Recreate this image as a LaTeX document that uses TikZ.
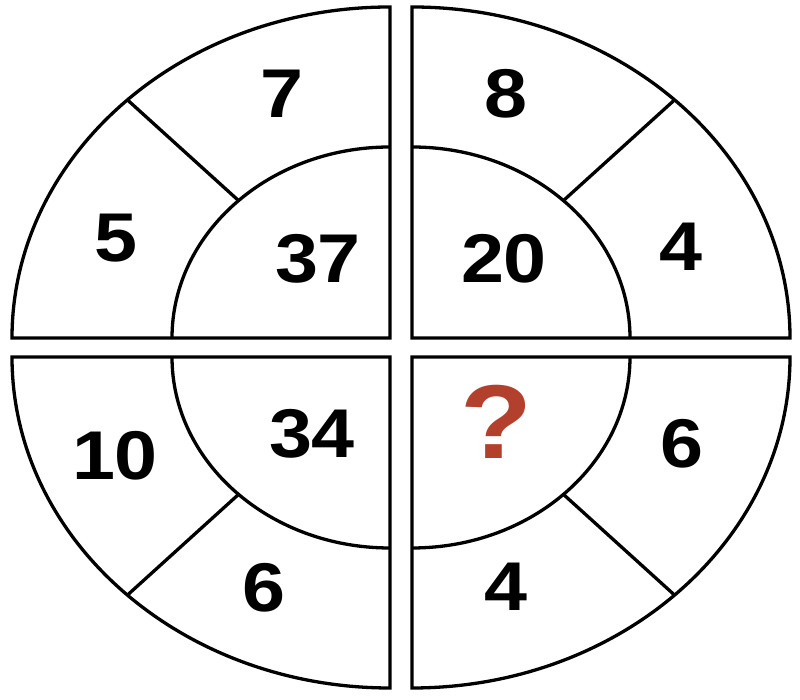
\documentclass[tikz,border=0pt]{standalone}
\usepackage{fontspec}
\setmainfont{Liberation Sans}
\newfontfamily\numfont[FakeStretch=1.12]{Liberation Sans Bold}
\usetikzlibrary{calc}
\definecolor{qcol}{RGB}{178,64,44}
\begin{document}
\begin{tikzpicture}[x=1pt,y=1pt,line width=3.3pt,
  quad/.style={draw=black,line join=miter},
  num/.style={inner sep=0pt,font=\numfont\fontsize{69}{80}\selectfont},
  qmark/.style={inner sep=0pt,text=qcol,font=\numfont\fontsize{105}{110}\selectfont}]
\fill[white] (0,0) rectangle (800,700);
\useasboundingbox (0,0) rectangle (800,700);
% quadrant corners
\coordinate (C1) at (390,362);
\coordinate (C2) at (412,362);
\coordinate (C3) at (390,343);
\coordinate (C4) at (412,343);
% top-left
\draw[quad] (C1) -- ++(-378,0) arc[start angle=180,end angle=90,x radius=378,y radius=331] -- cycle;
\draw[quad] (C1) ++(-218,0) arc[start angle=180,end angle=90,x radius=218,y radius=191];
\draw[quad] ($(C1)+(134:218 and 191)$) -- ($(C1)+(134:378 and 331)$);
% top-right
\draw[quad] (C2) -- ++(378,0) arc[start angle=0,end angle=90,x radius=378,y radius=331] -- cycle;
\draw[quad] (C2) ++(218,0) arc[start angle=0,end angle=90,x radius=218,y radius=191];
\draw[quad] ($(C2)+(46:218 and 191)$) -- ($(C2)+(46:378 and 331)$);
% bottom-left
\draw[quad] (C3) -- ++(-378,0) arc[start angle=180,end angle=270,x radius=378,y radius=331] -- cycle;
\draw[quad] (C3) ++(-218,0) arc[start angle=180,end angle=270,x radius=218,y radius=191];
\draw[quad] ($(C3)+(226:218 and 191)$) -- ($(C3)+(226:378 and 331)$);
% bottom-right
\draw[quad] (C4) -- ++(378,0) arc[start angle=0,end angle=-90,x radius=378,y radius=331] -- cycle;
\draw[quad] (C4) ++(218,0) arc[start angle=0,end angle=-90,x radius=218,y radius=191];
\draw[quad] ($(C4)+(314:218 and 191)$) -- ($(C4)+(314:378 and 331)$);
% numbers
\node[num] (n7) at (282,606) {7};
\node[num] (n5) at (116,462) {5};
\node[num] (n37) at (318,441) {37};
\node[num] (n8) at (506,606) {8};
\node[num] (n20) at (504,441) {20};
\node[num] (n4a) at (681,453) {4};
\node[num] (n10) at (115,244) {10};
\node[num] (n34) at (312,266) {34};
\node[num] (n6a) at (264,112) {6};
\node[qmark] (q) at (496,278) {?};
\node[num] (n6b) at (682,256) {6};
\node[num] (n4b) at (506,113) {4};
\end{tikzpicture}
\end{document}
